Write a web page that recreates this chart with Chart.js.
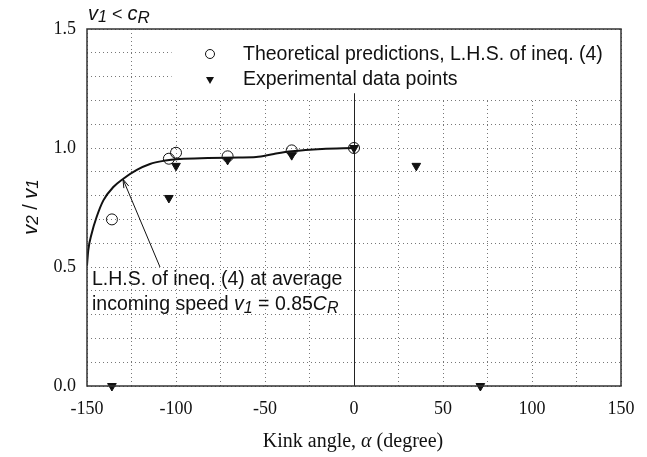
<!DOCTYPE html>
<html>
<head>
<meta charset="utf-8">
<script src="https://cdn.jsdelivr.net/npm/chart.js@4.4.1/dist/chart.umd.min.js"></script>
<style>
  html, body { margin: 0; padding: 0; background: #fff; }
  #wrap { width: 647px; height: 457px; }
</style>
</head>
<body>
<div id="wrap"><canvas id="kinkChart" width="647" height="457"></canvas></div>
<script>
// theoretical predictions (open circles)
const theoryX = [-136, -104, -100, -71, -35, 0];
const theoryY = [0.70, 0.955, 0.98, 0.965, 0.99, 1.0];

// experimental data points (filled triangles)
const expX = [-136, -104, -100, -71, -35, 0, 35, 71];
const expY = [0.0, 0.79, 0.925, 0.95, 0.97, 1.0, 0.925, 0.0];

// L.H.S. of ineq. (4) at v1 = 0.85 cR (solid curve)
const curveX = [-150, -149.3, -147.4, -144.6, -140.8, -135.2, -129.6, -122, -114.6, -107, -98, -82, -65, -55, -45, -35, -18, 0];
const curveY = [0.507, 0.57, 0.64, 0.71, 0.78, 0.836, 0.871, 0.908, 0.933, 0.946, 0.954, 0.958, 0.96, 0.962, 0.975, 0.986, 0.996, 1.0];

// axes
const xMin = -150, xMax = 150, xStep = 25;
const yMin = 0, yMax = 1.5, yStep = 0.1;

const toPts = (xs, ys) => xs.map((x, i) => ({ x: x, y: ys[i] }));

const SANS = '"Liberation Sans", Arial, sans-serif';
const SERIF = '"Liberation Serif", "Times New Roman", serif';

// draws text made of pieces: [text, font, dy]
function richText(ctx, parts, x, y) {
    let cx = x;
    parts.forEach(p => {
        ctx.font = p[1];
        ctx.fillText(p[0], cx, y + (p[2] || 0));
        cx += ctx.measureText(p[0]).width;
    });
}
function richWidth(ctx, parts) {
    let w = 0;
    parts.forEach(p => { ctx.font = p[1]; w += ctx.measureText(p[0]).width; });
    return w;
}

const extras = {
    id: 'extras',
    beforeDatasetsDraw(chart) {
        const { ctx, chartArea: a, scales: { x, y } } = chart;
        ctx.save();
        // white legend box hides the grid
        const bx = x.getPixelForValue(-102.5);
        ctx.fillStyle = '#fff';
        ctx.fillRect(bx, a.top + 1, a.right - bx - 1, y.getPixelForValue(1.21) - a.top);
        // solid vertical line at 0
        ctx.strokeStyle = '#222';
        ctx.lineWidth = 1;
        const x0 = Math.round(x.getPixelForValue(0)) + 0.5;
        ctx.beginPath();
        ctx.moveTo(x0, y.getPixelForValue(1.23));
        ctx.lineTo(x0, a.bottom);
        ctx.stroke();
        ctx.restore();
    },
    afterDatasetsDraw(chart) {
        const { ctx, chartArea: a, scales: { x, y } } = chart;
        ctx.save();
        // frame
        ctx.strokeStyle = '#333';
        ctx.lineWidth = 1.5;
        ctx.strokeRect(a.left, a.top, a.right - a.left, a.bottom - a.top);

        // legend
        ctx.fillStyle = '#111';
        ctx.strokeStyle = '#111';
        ctx.lineWidth = 1;
        ctx.beginPath();
        ctx.arc(210, 54, 4.5, 0, Math.PI * 2);
        ctx.stroke();
        ctx.beginPath();
        ctx.moveTo(206, 77); ctx.lineTo(214, 77); ctx.lineTo(210, 84);
        ctx.closePath();
        ctx.fill();
        ctx.font = '19.5px ' + SANS;
        ctx.textBaseline = 'alphabetic';
        ctx.fillText('Theoretical predictions, L.H.S. of ineq. (4)', 243, 60);
        ctx.fillText('Experimental data points', 243, 85);

        // annotation with arrow
        const tipX = x.getPixelForValue(-129.8), tipY = y.getPixelForValue(0.869);
        const tailX = x.getPixelForValue(-109), tailY = y.getPixelForValue(0.5);
        ctx.beginPath();
        ctx.moveTo(tailX, tailY);
        ctx.lineTo(tipX, tipY);
        const ang = Math.atan2(tipY - tailY, tipX - tailX);
        ctx.moveTo(tipX - 9 * Math.cos(ang - 0.3), tipY - 9 * Math.sin(ang - 0.3));
        ctx.lineTo(tipX, tipY);
        ctx.lineTo(tipX - 9 * Math.cos(ang + 0.3), tipY - 9 * Math.sin(ang + 0.3));
        ctx.stroke();

        ctx.font = '19.5px ' + SANS;
        ctx.fillText('L.H.S. of ineq. (4) at average', 92, 285);
        richText(ctx, [
            ['incoming speed ', '19.5px ' + SANS, 0],
            ['v', 'italic 19.5px ' + SANS, 0],
            ['1', 'italic 16px ' + SANS, 3],
            [' = 0.85', '19.5px ' + SANS, 0],
            ['C', 'italic 19.5px ' + SANS, 0],
            ['R', 'italic 16px ' + SANS, 3]
        ], 92, 310);

        // top-left label
        richText(ctx, [
            ['v', 'italic 20px ' + SANS, 0],
            ['1', 'italic 16px ' + SANS, 2],
            [' < ', '18px ' + SANS, 0],
            ['c', 'italic 20px ' + SANS, 0],
            ['R', 'italic 17px ' + SANS, 3]
        ], 88, 20);

        // x axis title
        const xt = [
            ['Kink angle, ', '20px ' + SERIF, 0],
            ['\u03b1', 'italic 20px ' + SERIF, 0],
            [' (degree)', '20px ' + SERIF, 0]
        ];
        ctx.textBaseline = 'middle';
        richText(ctx, xt, 353 - richWidth(ctx, xt) / 2, 442);

        // y axis title
        const yt = [
            ['v', 'italic 20px ' + SANS, 0],
            ['2', 'italic 17px ' + SANS, 2],
            [' / ', '20px ' + SANS, 0],
            ['v', 'italic 20px ' + SANS, 0],
            ['1', 'italic 17px ' + SANS, 2]
        ];
        ctx.translate(31, 207);
        ctx.rotate(-Math.PI / 2);
        richText(ctx, yt, -richWidth(ctx, yt) / 2, 0);
        ctx.restore();
    }
};

new Chart(document.getElementById('kinkChart'), {
    type: 'scatter',
    data: {
        datasets: [
            {
                label: 'L.H.S. of ineq. (4) at average incoming speed',
                data: toPts(curveX, curveY),
                showLine: true,
                borderColor: '#111',
                borderWidth: 2,
                pointRadius: 0,
                cubicInterpolationMode: 'monotone',
                order: 3
            },
            {
                label: 'Experimental data points',
                data: toPts(expX, expY),
                pointStyle: 'triangle',
                rotation: 180,
                pointRadius: 5,
                backgroundColor: '#111',
                borderColor: '#111',
                borderWidth: 1,
                clip: false,
                order: 2
            },
            {
                label: 'Theoretical predictions, L.H.S. of ineq. (4)',
                data: toPts(theoryX, theoryY),
                pointStyle: 'circle',
                pointRadius: 5.5,
                backgroundColor: 'rgba(255,255,255,0)',
                borderColor: '#111',
                borderWidth: 1,
                order: 1
            }
        ]
    },
    options: {
        responsive: false,
        animation: false,
        layout: { padding: { top: 29, right: 26, left: 0, bottom: 0 } },
        plugins: { legend: { display: false }, tooltip: { enabled: false } },
        scales: {
            x: {
                type: 'linear',
                min: xMin, max: xMax,
                afterFit: s => { s.height = 71; },
                afterBuildTicks: s => {
                    s.ticks = [];
                    for (let v = xMin; v <= xMax; v += xStep) s.ticks.push({ value: v });
                },
                ticks: {
                    autoSkip: false,
                    maxRotation: 0,
                    padding: 12,
                    color: '#111',
                    font: { family: SERIF, size: 18 },
                    callback: v => (v % 50 === 0 ? String(v) : '')
                },
                grid: { color: '#777', lineWidth: 1, drawTicks: false },
                border: { display: false, dash: [1, 3] }
            },
            y: {
                type: 'linear',
                min: yMin, max: yMax,
                afterFit: s => { s.width = 87; },
                afterBuildTicks: s => {
                    s.ticks = [];
                    for (let i = 0; i <= 15; i++) s.ticks.push({ value: Math.round(i * yStep * 10) / 10 });
                },
                ticks: {
                    autoSkip: false,
                    padding: 11,
                    color: '#111',
                    font: { family: SERIF, size: 18 },
                    callback: v => (Math.abs(v * 2 - Math.round(v * 2)) < 1e-6 ? v.toFixed(1) : '')
                },
                grid: { color: '#777', lineWidth: 1, drawTicks: false },
                border: { display: false, dash: [1, 3] }
            }
        }
    },
    plugins: [extras]
});
</script>
</body>
</html>
